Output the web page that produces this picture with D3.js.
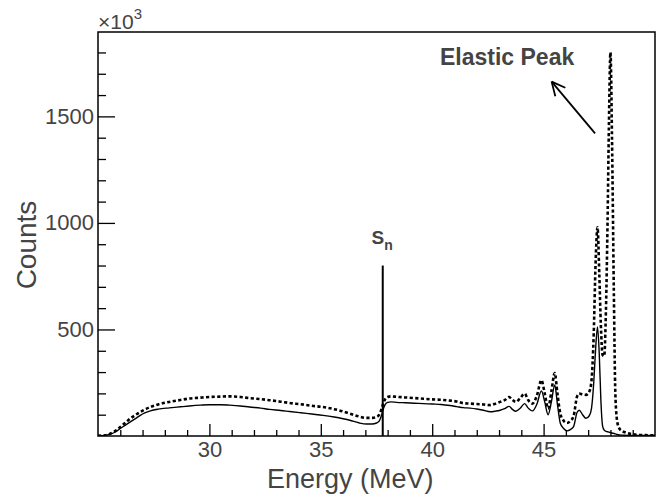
<!DOCTYPE html>
<html>
<head>
<meta charset="utf-8">
<script src="https://cdn.jsdelivr.net/npm/d3@7"></script>
<style>
  html, body { margin: 0; padding: 0; background: #fff; }
  svg { display: block; }
  text { font-family: "Liberation Sans", Arial, Helvetica, sans-serif; fill: #444; }
</style>
</head>
<body>
<svg id="chart" width="668" height="494"></svg>
<script>
// ---- data (counts in units of 10^3) ----
const energyMeV = [25.0, 25.3, 25.55, 25.8, 26.0, 26.2, 26.45, 26.7, 26.9, 27.1, 27.35, 27.7, 28.2, 28.7, 29.1, 29.6, 30.0, 30.5, 30.9, 31.4, 31.8, 32.3, 32.7, 33.2, 33.6, 34.1, 34.6, 35.1, 35.6, 36.0, 36.3, 36.7, 37.05, 37.3, 37.5, 37.62, 37.72, 37.8, 37.9, 38.0, 38.15, 38.4, 38.8, 39.2, 39.6, 40.0, 40.4, 40.8, 41.1, 41.4, 41.7, 42.0, 42.3, 42.6, 42.85, 43.05, 43.25, 43.45, 43.6, 43.75, 43.95, 44.15, 44.3, 44.5, 44.7, 44.9, 45.05, 45.2, 45.35, 45.5, 45.62, 45.75, 45.9, 46.05, 46.2, 46.35, 46.5, 46.6, 46.75, 46.9, 47.05, 47.15, 47.25, 47.33, 47.42, 47.5, 47.57, 47.65, 47.72, 47.8, 47.87, 47.93, 48.0, 48.07, 48.15, 48.22, 48.3, 48.4, 48.55, 48.75, 49.0, 49.3, 49.6, 50.0];

const countsSolid = [1, 3, 9, 20, 35, 49, 66, 83, 97, 108, 118, 126, 132, 137, 141, 145, 147, 147, 145, 141, 136, 131, 125, 120, 115, 109, 103, 97, 89, 81, 74, 62, 56, 56, 61, 70, 95, 125, 150, 158, 160, 158, 156, 154, 152, 150, 148, 143, 138, 133, 131, 127, 121, 114, 117, 121, 128, 139, 125, 116, 130, 152, 132, 118, 150, 212, 160, 100, 160, 240, 150, 60, 35, 24, 30, 45, 110, 121, 100, 83, 95, 130, 250, 400, 512, 380, 170, 45, 28, 22, 20, 18, 16, 14, 12, 10, 7, 5, 4, 3, 3, 2, 2, 2];

const countsDashed = [1, 3, 11, 25, 42, 60, 82, 100, 113, 124, 136, 148, 160, 169, 176, 180, 183, 185, 186, 183, 178, 173, 168, 161, 155, 149, 142, 136, 126, 115, 105, 92, 85, 85, 89, 100, 125, 152, 175, 183, 186, 184, 181, 178, 175, 172, 170, 166, 162, 154, 152, 150, 148, 145, 152, 160, 168, 183, 170, 160, 178, 199, 170, 152, 190, 262, 200, 129, 210, 296, 200, 105, 72, 61, 70, 95, 185, 199, 195, 193, 208, 260, 480, 800, 980, 760, 520, 380, 375, 600, 1000, 1450, 1800, 1400, 700, 200, 70, 35, 22, 14, 8, 5, 4, 3];

const xTickMajor = [30, 35, 40, 45];
const xTickMinor = [26, 27, 28, 29, 31, 32, 33, 34, 36, 37, 38, 39, 41, 42, 43, 44, 46, 47, 48, 49];
const yTickMajor = [500, 1000, 1500];
const yTickMinor = [100, 200, 300, 400, 600, 700, 800, 900, 1100, 1200, 1300, 1400, 1600, 1700, 1800];

const xDomain = [25, 50];
const yDomain = [0, 1896];

const snEnergy = 37.78, snHeight = 800;
const snLabelPos = [37.28, 903];
const peakLabelPos = [40.35, 1741];
const arrowTail = [47.31, 1420];
const arrowTip = [45.36, 1663];

// ---- layout ----
const svg = d3.select("#chart");
const L = 98, R = 655, T = 32, B = 436;

const x = d3.scaleLinear().domain(xDomain).range([L, R]);
const y = d3.scaleLinear().domain(yDomain).range([B, T]);

svg.append("defs").append("clipPath").attr("id", "clip")
  .append("rect").attr("x", L).attr("y", T).attr("width", R - L).attr("height", B - T);

const pts = energyMeV.map((e, i) => ({ e, s: countsSolid[i], d: countsDashed[i] }));

const lineS = d3.line().x(p => x(p.e)).y(p => y(p.s)).curve(d3.curveMonotoneX);
const lineD = d3.line().x(p => x(p.e)).y(p => y(p.d)).curve(d3.curveMonotoneX);

const g = svg.append("g").attr("clip-path", "url(#clip)");
g.append("path").datum(pts).attr("d", lineD)
  .attr("fill", "none").attr("stroke", "#000").attr("stroke-width", 2.6)
  .attr("stroke-dasharray", "3.2,2.4");
g.append("path").datum(pts).attr("d", lineS)
  .attr("fill", "none").attr("stroke", "#000").attr("stroke-width", 1.4);

// Sn line
svg.append("line")
  .attr("x1", x(snEnergy)).attr("x2", x(snEnergy))
  .attr("y1", y(0)).attr("y2", y(snHeight))
  .attr("stroke", "#000").attr("stroke-width", 2);

// axes
function styleAxis(sel) {
  sel.select(".domain").remove();
  sel.selectAll(".tick line").attr("stroke", "#000").attr("stroke-width", 1.3);
  sel.selectAll(".tick text").style("font-size", "22px").attr("fill", "#444");
}

svg.append("g").attr("transform", `translate(0,${B})`)
  .call(d3.axisBottom(x).tickValues(xTickMajor).tickSize(-12).tickPadding(5).tickFormat(d3.format("d")))
  .call(styleAxis);
svg.append("g").attr("transform", `translate(0,${B})`)
  .call(d3.axisBottom(x).tickValues(xTickMinor).tickSize(-6).tickFormat(""))
  .call(styleAxis);
svg.append("g").attr("transform", `translate(${L},0)`)
  .call(d3.axisLeft(y).tickValues(yTickMajor).tickSize(-17).tickPadding(4).tickFormat(d3.format("d")))
  .call(styleAxis);
svg.append("g").attr("transform", `translate(${L},0)`)
  .call(d3.axisLeft(y).tickValues(yTickMinor).tickSize(-8).tickFormat(""))
  .call(styleAxis);

// frame
svg.append("rect").attr("x", L).attr("y", T).attr("width", R - L).attr("height", B - T)
  .attr("fill", "none").attr("stroke", "#000").attr("stroke-width", 1.5);

// exponent
const ex = svg.append("text").attr("x", L).attr("y", 29).style("font-size", "21px");
ex.append("tspan").text("\u00d710");
ex.append("tspan").attr("dy", -10).style("font-size", "15px").text("3");

// axis titles
svg.append("text").attr("x", 267).attr("y", 488).style("font-size", "27px").text("Energy (MeV)");
svg.append("text").attr("transform", "translate(36,245) rotate(-90)")
  .attr("text-anchor", "middle").style("font-size", "28px").text("Counts");

// Sn label
const sn = svg.append("text").attr("x", x(snLabelPos[0])).attr("y", y(snLabelPos[1]))
  .style("font-weight", "bold").style("font-size", "19px");
sn.append("tspan").text("S");
sn.append("tspan").attr("dy", 6).style("font-size", "14px").text("n");

// Elastic peak label + arrow
svg.append("text").attr("x", x(peakLabelPos[0])).attr("y", y(peakLabelPos[1]))
  .style("font-weight", "bold").style("font-size", "23px").text("Elastic Peak");

const tx = x(arrowTail[0]), ty = y(arrowTail[1]), hx = x(arrowTip[0]), hy = y(arrowTip[1]);
svg.append("line").attr("x1", tx).attr("y1", ty).attr("x2", hx).attr("y2", hy)
  .attr("stroke", "#000").attr("stroke-width", 1.8);
const ang = Math.atan2(ty - hy, tx - hx);
const headLen = 15, spread = 0.45;
[ang - spread, ang + spread].forEach(a => {
  svg.append("line").attr("x1", hx).attr("y1", hy)
    .attr("x2", hx + headLen * Math.cos(a)).attr("y2", hy + headLen * Math.sin(a))
    .attr("stroke", "#000").attr("stroke-width", 1.8);
});
</script>
</body>
</html>
